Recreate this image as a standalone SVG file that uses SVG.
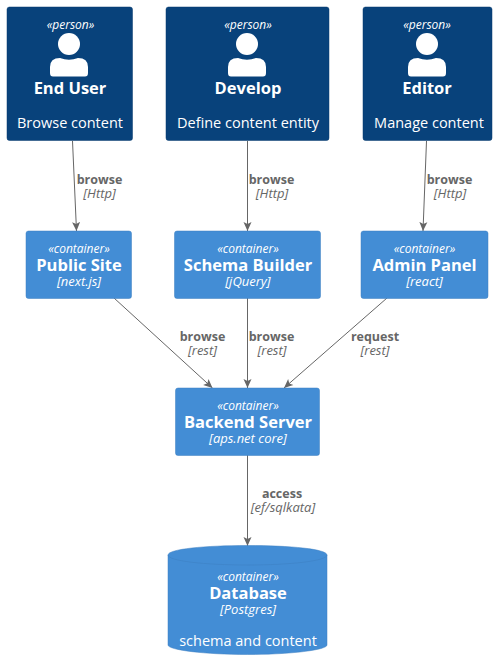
<svg xmlns="http://www.w3.org/2000/svg" width="498" height="670" viewBox="0 0 498 670">
<style>
text{font-family:"Open Sans","Noto Sans",sans-serif;text-anchor:middle;fill:#fff}
.st{font-size:12px;font-style:italic}
.t{font-size:16.500px;font-weight:bold}
.d{font-size:14.500px}
.tech{font-size:13px;font-style:italic}
.p{fill:#08427B;stroke:#073B6F;stroke-width:.5}
.c{fill:#438DD5;stroke:#3C7FC0;stroke-width:.5}
.ll{font-size:12.500px;font-weight:bold;fill:#666}
.lt{font-size:13px;font-style:italic;fill:#666}
.e{fill:none;stroke:#666;stroke-width:1}
.i{fill:#fff}
</style>
<defs>
<marker id="a" markerUnits="userSpaceOnUse" markerWidth="10" markerHeight="10" refX="9" refY="5" orient="auto"><path d="M0,1 L9,5 L0,9 L2,5 Z" fill="#666"/></marker>
<g id="person"><circle cx="0" cy="-32" r="11" class="i"/><path d="M-19,-3 V-9 Q-19,-18 -9,-18 Q0,-14.500 9,-18 Q19,-18 19,-9 V-3 Q19,0.500 16,0.500 H-16 Q-19,0.500 -19,-3 Z" class="i"/></g>
</defs>
<g id="connectors">
<path class="e" marker-end="url(#a)" d="M72.500,141 L76.500,231"/>
<path class="e" marker-end="url(#a)" d="M247.500,141 V231"/>
<path class="e" marker-end="url(#a)" d="M426.500,141 L423,231"/>
<path class="e" marker-end="url(#a)" d="M114,298 L212.500,388"/>
<path class="e" marker-end="url(#a)" d="M247.500,298 V388"/>
<path class="e" marker-end="url(#a)" d="M387,298 L284,388"/>
<path class="e" marker-end="url(#a)" d="M247.500,455 V546"/>
</g>
<g id="labels">
<text class="ll" x="99.500" y="184">browse</text><text class="lt" x="99.500" y="198">[Http]</text>
<text class="ll" x="271.500" y="184">browse</text><text class="lt" x="272" y="198">[Http]</text>
<text class="ll" x="449.500" y="184">browse</text><text class="lt" x="450" y="198">[Http]</text>
<text class="ll" x="202.500" y="341">browse</text><text class="lt" x="202.500" y="355">[rest]</text>
<text class="ll" x="271.500" y="341">browse</text><text class="lt" x="272" y="355">[rest]</text>
<text class="ll" x="375" y="341">request</text><text class="lt" x="375" y="355">[rest]</text>
<text class="ll" x="282" y="498">access</text><text class="lt" x="283" y="512">[ef/sqlkata]</text>
</g>
<g id="end-user"><rect class="p" x="7" y="7" width="125.500" height="133.500" rx="2.500"/><text class="st" x="70.500" y="29">«person»</text><use href="#person" x="69" y="76"/><text class="t" x="70" y="94">End User</text><text class="d" x="70" y="128">Browse content</text></g>
<g id="develop"><rect class="p" x="166" y="7" width="163" height="133.500" rx="2.500"/><text class="st" x="248" y="29">«person»</text><use href="#person" x="247" y="76"/><text class="t" x="248" y="94">Develop</text><text class="d" x="248" y="128">Define content entity</text></g>
<g id="editor"><rect class="p" x="363" y="7" width="129" height="133.500" rx="2.500"/><text class="st" x="427" y="29">«person»</text><use href="#person" x="427" y="76"/><text class="t" x="427" y="94">Editor</text><text class="d" x="429" y="128">Manage content</text></g>
<g id="public-site"><rect class="c" x="26" y="231" width="105.500" height="67.500" rx="2.500"/><text class="st" x="79" y="253">«container»</text><text class="t" x="79" y="271">Public Site</text><text class="tech" x="79" y="286">[next.js]</text></g>
<g id="schema-builder"><rect class="c" x="174.500" y="231" width="146" height="67.500" rx="2.500"/><text class="st" x="248" y="253">«container»</text><text class="t" x="248" y="271">Schema Builder</text><text class="tech" x="248" y="286">[jQuery]</text></g>
<g id="admin-panel"><rect class="c" x="361" y="231" width="127" height="67.500" rx="2.500"/><text class="st" x="424.500" y="253">«container»</text><text class="t" x="424.500" y="271">Admin Panel</text><text class="tech" x="424.500" y="286">[react]</text></g>
<g id="backend-server"><rect class="c" x="175.500" y="388" width="144" height="67.500" rx="2.500"/><text class="st" x="248" y="410">«container»</text><text class="t" x="248" y="428">Backend Server</text><text class="tech" x="248" y="443">[aps.net core]</text></g>
<g id="database"><path class="c" d="M168,555 C168,549 205,545.500 247.500,545.500 C290,545.500 327,549 327,555 V645 C327,650 290,654.500 247.500,654.500 C205,654.500 168,650 168,645 Z"/><path fill="none" stroke="#3C7FC0" stroke-width=".5" d="M168,555 C168,561 205,565 247.500,565 C290,565 327,561 327,555"/><text class="st" x="248" y="581">«container»</text><text class="t" x="248" y="599">Database</text><text class="tech" x="248" y="614">[Postgres]</text><text class="d" x="248" y="646">schema and content</text></g>
</svg>
